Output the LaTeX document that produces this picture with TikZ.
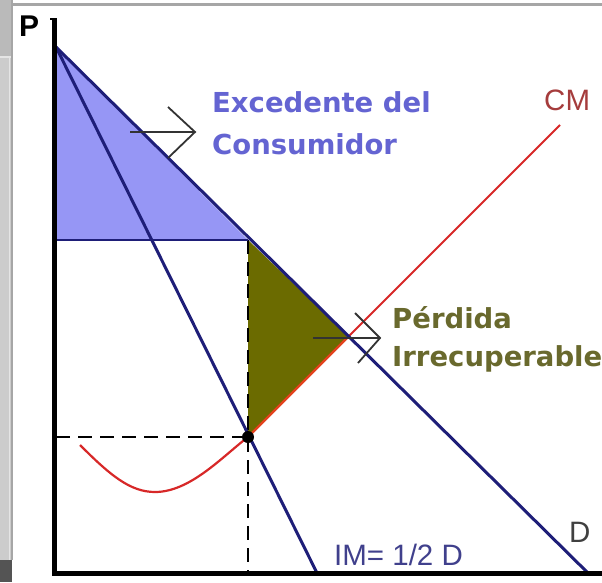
\documentclass[tikz,border=0pt]{standalone}
\usepackage{fontspec}
\setmainfont{Liberation Sans}
\newfontfamily\dvfont{DejaVu Sans}
\definecolor{cblue}{RGB}{150,150,245}
\definecolor{cnavy}{RGB}{30,30,120}
\definecolor{colive}{RGB}{107,107,0}
\definecolor{ctxtblue}{RGB}{100,100,210}
\definecolor{ctxtolive}{RGB}{105,105,45}
\definecolor{cred}{RGB}{215,40,40}
\definecolor{ctxtred}{RGB}{165,60,60}
\tikzset{
  axisline/.style={line width=5.5pt, black},
  curve/.style={line width=3pt, cnavy},
  guide/.style={line width=2.5pt, black, dash pattern=on 14pt off 8pt},
  pointer/.style={line width=1.8pt, black!80},
  bigbold/.style={font=\dvfont\bfseries\fontsize{27.5}{30}\selectfont, inner sep=0pt, anchor=base west},
  plain/.style={font=\fontsize{29.5}{32}\selectfont, inner sep=0pt, anchor=base west},
}
\begin{document}
\begin{tikzpicture}[x=1pt,y=-1pt]
\useasboundingbox (0,0) rectangle (602,582);
% frame decorations
\fill[black!27] (0,0) rectangle (11,57);
\fill[black!20] (0,57) rectangle (11,560);
\fill[black!10] (8.5,57) rectangle (10,560);
\fill[black!10] (0,56) rectangle (11,58);
\fill[black!35] (11,0) rectangle (13,560);
\fill[black!35] (13,3) rectangle (602,5.5);
\fill[black!67] (0,560) rectangle (12,582);
% key points
\coordinate (top) at (56,47);
\coordinate (dend) at (590,575);
\coordinate (imend) at (318,575);
\coordinate (pm) at (56,240);
\coordinate (dq) at (248,240);
\coordinate (eq) at (248,437);
\coordinate (cx) at (348.6,336.4);
\coordinate (cmtop) at (560,125);
\coordinate (cq) at (56,437);
\coordinate (qa) at (248,573);
% fills
\fill[cblue] (top) -- (pm) -- (dq) -- cycle;
\fill[colive] (dq) -- (cx) -- (eq) -- cycle;
% CM
\draw[cred, line width=2pt] (eq) -- (cmtop);
\draw[cred!70!orange, line width=2.2pt] (eq) -- (cx);
\draw[cred, line width=2.2pt] (80,445) .. controls (110,475) and (130,492) .. (155,492) .. controls (190,492) and (222,457) .. (eq);
% guides
\draw[guide] (cq) -- (eq);
\draw[guide] (dq) -- (qa);
% demand and IM
\draw[cnavy, line width=2.5pt] (pm) -- (dq);
\draw[curve] (top) -- (dend);
\draw[curve] (top) -- (imend);
% axes
\draw[axisline] (54.5,18) -- (54.5,573.5) -- (602,573.5);
\draw[line width=2pt] (50,19) -- (55,19);
% equilibrium point
\fill[black] (eq) circle (6pt);
% pointers
\coordinate (a1s) at (130,132);
\coordinate (a1e) at (195,132);
\draw[pointer] (a1s) -- (a1e);
\draw[pointer] (168,107) -- (a1e) -- (168,158);
\coordinate (a2s) at (313,338);
\coordinate (a2e) at (380,338);
\draw[pointer] (a2s) -- (a2e);
\draw[pointer] (355,313) -- (a2e) -- (358,363);
% labels
\node[bigbold, text=ctxtblue] (exc1) at (212,112) {Excedente del};
\node[bigbold, text=ctxtblue] (exc2) at (212,154) {Consumidor};
\node[bigbold, text=ctxtolive] (per1) at (392,328) {Pérdida};
\node[bigbold, text=ctxtolive] (per2) at (392,366) {Irrecuperable};
\node[plain, text=ctxtred] (cm) at (544,110) {CM};
\node[plain, text=black!75] (dl) at (569,542) {D};
\node[plain, text=cnavy!85] (im) at (334,565) {IM= 1/2 D};
\node[font=\bfseries\fontsize{30}{32}\selectfont, inner sep=0pt, anchor=base west] (p) at (19,36) {P};
\end{tikzpicture}
\end{document}
